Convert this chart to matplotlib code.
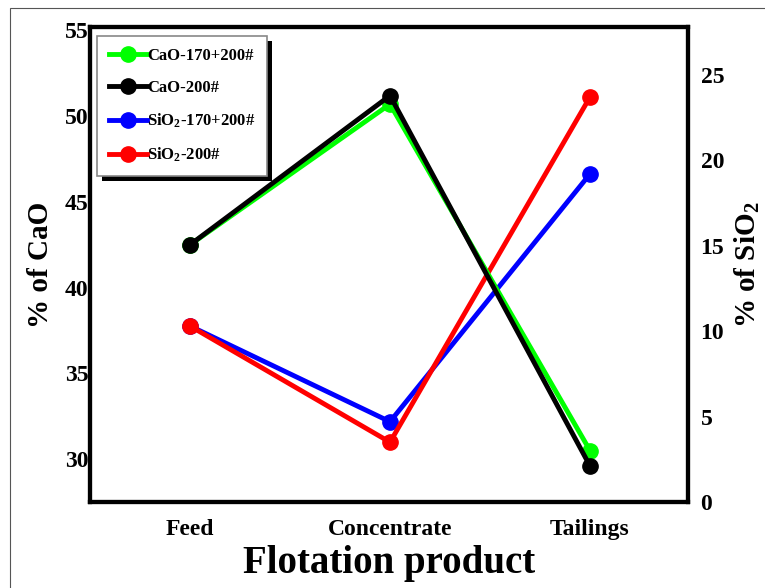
import matplotlib
matplotlib.use('Agg')
from matplotlib import pyplot as plt
from matplotlib.patches import Rectangle

plt.rcParams['font.family'] = ['Liberation Serif', 'DejaVu Serif']
plt.rcParams['font.weight'] = 'bold'
plt.rcParams['mathtext.default'] = 'regular'

# data
products = ['Feed', 'Concentrate', 'Tailings']
cao_170_200 = [42.5, 50.7, 30.5]
cao_200 = [42.5, 51.2, 29.6]
sio2_170_200 = [10.3, 4.7, 19.2]
sio2_200 = [10.3, 3.5, 23.7]

fig = plt.figure(figsize=(7.65, 5.88), dpi=100)
# thin frame round the picture
fig.patches.append(Rectangle((10/765, -0.01), 1.0, 1 - 8/588 + 0.01, transform=fig.transFigure,
                             fill=False, edgecolor='#555555', linewidth=0.8))

ax = fig.add_axes([90/765, 1 - 502/588, 598/765, 475/588])
ax2 = ax.twinx()

x = range(len(products))
l1, = ax.plot(x, cao_170_200, color='#00ff00', lw=3.5, marker='o', ms=11, label='CaO-170+200#')
l2, = ax.plot(x, cao_200, color='black', lw=3.5, marker='o', ms=11, label='CaO-200#')
l3, = ax2.plot(x, sio2_170_200, color='blue', lw=3.5, marker='o', ms=11, label='SiO$_2$-170+200#')
l4, = ax2.plot(x, sio2_200, color='red', lw=3.5, marker='o', ms=11, label='SiO$_2$-200#')

ax.set_xlim(-0.5, 2.49)
ax.set_ylim(27.5, 55.2)
ax2.set_ylim(0, 27.8)
ax.set_yticks([30, 35, 40, 45, 50, 55])
ax2.set_yticks([0, 5, 10, 15, 20, 25])
ax.set_xticks(list(x))
ax.set_xticklabels(products)

for a in (ax, ax2):
    for s in a.spines.values():
        s.set_linewidth(3)
    a.tick_params(length=0, labelsize=17)
ax.tick_params(axis='x', pad=12)
ax.tick_params(axis='y', pad=1)
ax2.tick_params(axis='y', pad=9)

ax.set_ylabel('% of CaO', fontsize=21, fontweight='bold', labelpad=8)
ax2.set_ylabel('% of SiO$_2$', fontsize=21, fontweight='bold', labelpad=6)
ax.set_xlabel('Flotation product', fontsize=28, fontweight='bold', labelpad=4)

leg = ax.legend(handles=[l1, l2, l3, l4], loc='upper left', fontsize=12, shadow=False,
                fancybox=False, edgecolor='#888888', handlelength=2.3, handletextpad=0.0,
                labelspacing=0.95, borderpad=0.7, bbox_to_anchor=(-0.002, 0.998),
                framealpha=1)
leg.get_frame().set_linewidth(1.2)
ax2.set_zorder(ax.get_zorder() - 1)
ax.patch.set_visible(False)
ax.set_zorder(2)

# black drop shadow behind the legend
fig.canvas.draw()
bb = leg.get_window_extent()
W, H = fig.bbox.width, fig.bbox.height
fig.patches.append(Rectangle(((bb.x0 + 5) / W, (bb.y0 - 5) / H), bb.width / W, bb.height / H,
                             transform=fig.transFigure, facecolor='black', edgecolor='none',
                             zorder=0.5))
leg.set_zorder(10)

plt.savefig('out.png', dpi=100)
